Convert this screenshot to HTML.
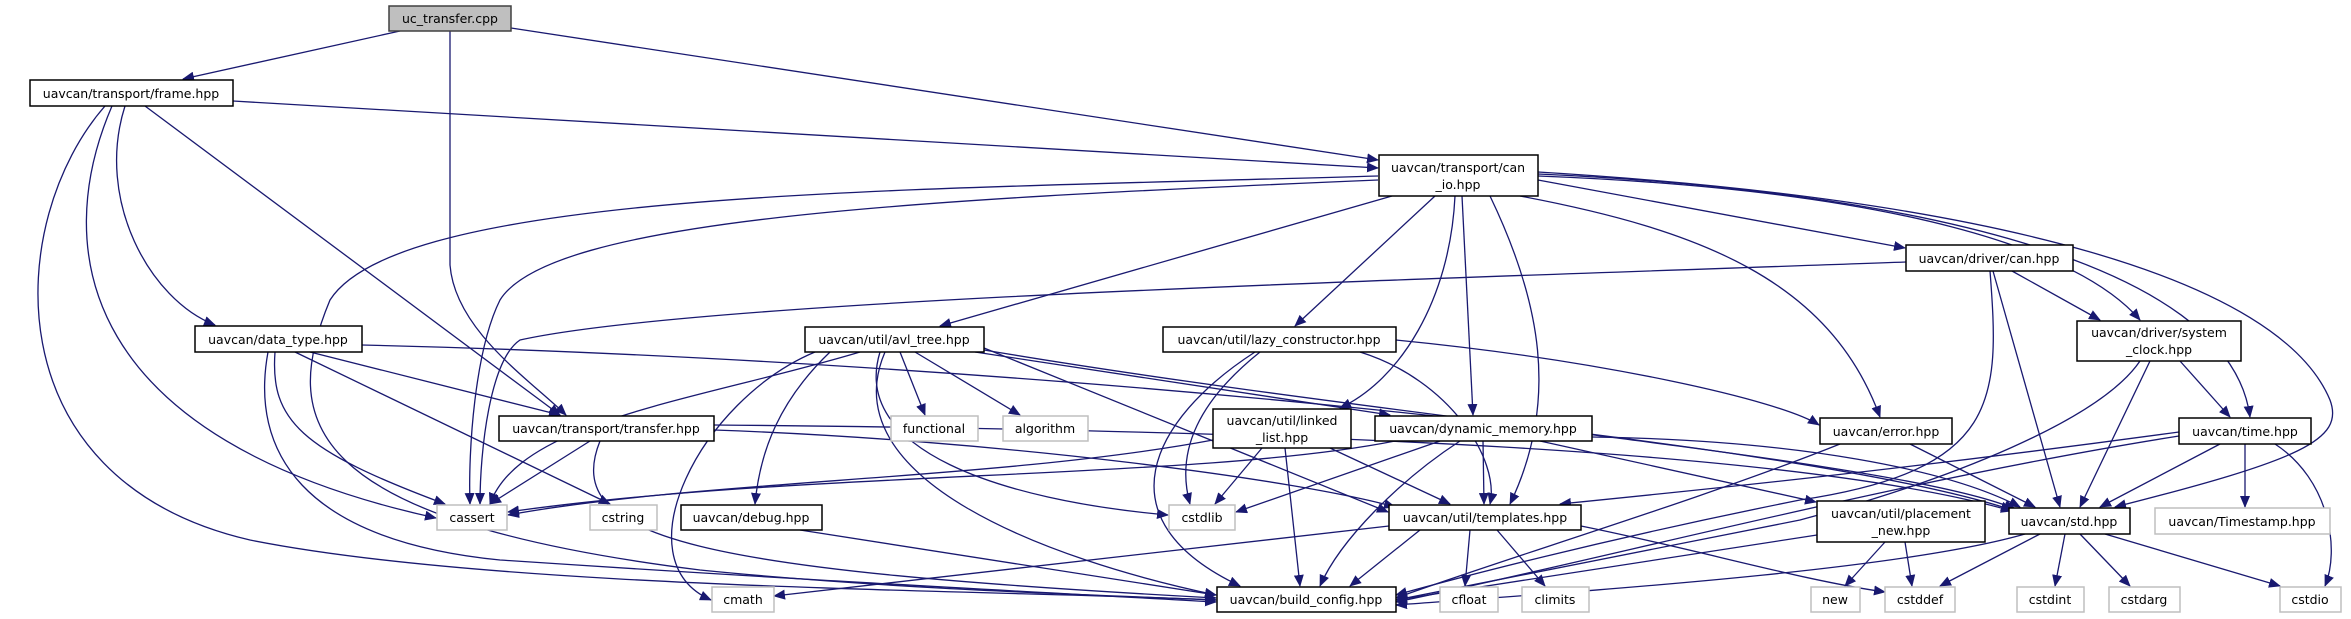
<!DOCTYPE html>
<html><head><meta charset="utf-8"><style>
html,body{margin:0;padding:0;background:#fff;}
svg{display:block;}
text{font-family:"DejaVu Sans","Liberation Sans",sans-serif;font-size:12.5px;fill:#000;}
.n{fill:#fff;stroke:#000;stroke-width:1.5;}
.g{fill:#fff;stroke:#bfbfbf;stroke-width:1.5;}
.e{fill:none;stroke:#191970;stroke-width:1.3;marker-end:url(#a);}
</style></head><body>
<svg width="2351" height="619" viewBox="0 0 2351 619" xmlns="http://www.w3.org/2000/svg">
<defs><marker id="a" markerUnits="userSpaceOnUse" markerWidth="12" markerHeight="10" refX="11" refY="5" orient="auto"><path d="M0,0 L12,5 L0,10 z" fill="#191970"/></marker></defs>
<g>
<path class="e" d="M400,31 L183,79"/>
<path class="e" d="M511,28 L1378,160"/>
<path class="e" d="M450,31 L450,265 C455,330 530,380 566,415"/>
<path class="e" d="M233,101 L1378,168"/>
<path class="e" d="M125,106 C95,200 150,300 215,325"/>
<path class="e" d="M145,106 L560,415"/>
<path class="e" d="M112,106 C50,250 80,440 436,518"/>
<path class="e" d="M105,106 C5,220 -10,480 250,540 C500,590 1000,590 1216,600"/>
<path class="e" d="M1392,196 L940,326"/>
<path class="e" d="M1435,196 L1295,326"/>
<path class="e" d="M1455,196 C1450,300 1400,380 1340,408"/>
<path class="e" d="M1462,196 L1473,415"/>
<path class="e" d="M1490,196 C1540,300 1560,400 1510,504"/>
<path class="e" d="M1520,196 C1700,230 1830,280 1880,417"/>
<path class="e" d="M1538,180 L1905,248"/>
<path class="e" d="M1538,176 C1900,190 2080,250 2140,320"/>
<path class="e" d="M1538,174 C1900,190 2230,260 2250,417"/>
<path class="e" d="M1538,172 C2000,200 2280,280 2330,400 C2345,440 2300,460 2115,507"/>
<path class="e" d="M1378,180 C900,200 550,220 500,300 C475,350 468,450 470,504"/>
<path class="e" d="M1378,176 C900,190 400,190 330,300 C280,420 300,520 700,570 C900,590 1100,595 1216,600"/>
<path class="e" d="M2012,271 L2100,320"/>
<path class="e" d="M1993,271 L2060,507"/>
<path class="e" d="M1990,271 C2000,400 2000,470 1800,500 C1600,540 1450,580 1396,595"/>
<path class="e" d="M1906,262 C1400,280 700,300 520,340 C490,360 480,450 480,504"/>
<path class="e" d="M2180,361 L2230,417"/>
<path class="e" d="M2150,361 L2080,507"/>
<path class="e" d="M2140,361 C2100,420 1950,480 1800,520 C1600,560 1450,590 1396,600"/>
<path class="e" d="M2220,444 L2100,507"/>
<path class="e" d="M2245,444 L2245,507"/>
<path class="e" d="M2275,444 C2330,480 2340,550 2325,586"/>
<path class="e" d="M2179,436 C1900,480 1600,560 1396,602"/>
<path class="e" d="M2179,432 C1900,470 1700,490 1560,504"/>
<path class="e" d="M1910,444 L2035,507"/>
<path class="e" d="M1840,444 C1700,500 1500,560 1396,598"/>
<path class="e" d="M2040,534 L1940,586"/>
<path class="e" d="M2065,534 L2055,586"/>
<path class="e" d="M2080,534 L2130,586"/>
<path class="e" d="M2105,534 L2280,586"/>
<path class="e" d="M2025,534 C1900,570 1600,590 1396,605"/>
<path class="e" d="M1885,542 L1845,586"/>
<path class="e" d="M1905,542 L1912,586"/>
<path class="e" d="M1817,535 C1650,560 1500,585 1396,600"/>
<path class="e" d="M1420,530 L1350,586"/>
<path class="e" d="M1470,530 L1465,586"/>
<path class="e" d="M1497,530 L1545,586"/>
<path class="e" d="M1389,526 C1100,560 900,580 774,596"/>
<path class="e" d="M1581,526 C1700,550 1800,580 1885,592"/>
<path class="e" d="M1483,441 L1484,504"/>
<path class="e" d="M1460,441 C1400,480 1340,540 1320,586"/>
<path class="e" d="M1440,441 L1236,512"/>
<path class="e" d="M1395,441 C1200,480 800,470 508,512"/>
<path class="e" d="M1592,437 C1800,440 1950,470 2020,507"/>
<path class="e" d="M1540,441 L1816,502"/>
<path class="e" d="M1262,448 L1215,504"/>
<path class="e" d="M1285,448 L1300,586"/>
<path class="e" d="M1330,448 L1450,504"/>
<path class="e" d="M1213,440 C1000,480 700,480 508,515"/>
<path class="e" d="M1396,340 C1600,360 1780,400 1819,425"/>
<path class="e" d="M1360,352 C1450,380 1500,460 1490,504"/>
<path class="e" d="M1255,352 C1150,420 1100,520 1240,586"/>
<path class="e" d="M1260,352 C1200,400 1175,450 1190,504"/>
<path class="e" d="M900,352 L925,415"/>
<path class="e" d="M915,352 L1020,415"/>
<path class="e" d="M975,352 L1390,415"/>
<path class="e" d="M830,352 C780,400 760,450 755,504"/>
<path class="e" d="M880,352 C850,450 1000,500 1168,515"/>
<path class="e" d="M860,352 C700,400 520,420 490,504"/>
<path class="e" d="M885,352 C830,480 1050,560 1216,595"/>
<path class="e" d="M815,352 C700,400 620,560 711,600"/>
<path class="e" d="M984,350 C1400,420 1900,460 2015,509"/>
<path class="e" d="M984,348 L1388,512"/>
<path class="e" d="M800,530 L1216,595"/>
<path class="e" d="M590,441 L490,504"/>
<path class="e" d="M600,441 C560,540 700,570 1216,598"/>
<path class="e" d="M714,425 C1300,430 1800,450 2012,511"/>
<path class="e" d="M714,430 C1000,440 1300,480 1395,507"/>
<path class="e" d="M310,352 L560,415"/>
<path class="e" d="M275,352 C270,420 300,450 445,504"/>
<path class="e" d="M295,352 L610,504"/>
<path class="e" d="M268,352 C250,450 300,540 500,560 C800,580 1000,590 1216,602"/>
<path class="e" d="M362,345 C1000,360 1800,440 2012,510"/>
</g>
<g>
<rect x="389" y="6" width="122" height="25" fill="#bfbfbf" stroke="#404040" stroke-width="1.5"/><text x="450" y="23" text-anchor="middle">uc_transfer.cpp</text>
<rect class="n" x="30" y="80" width="203" height="26"/><text x="131" y="98" text-anchor="middle">uavcan/transport/frame.hpp</text>
<rect class="n" x="1379" y="155" width="159" height="41"/><text x="1458" y="172" text-anchor="middle">uavcan/transport/can</text><text x="1458" y="189" text-anchor="middle">_io.hpp</text>
<rect class="n" x="195" y="326" width="167" height="26"/><text x="278" y="344" text-anchor="middle">uavcan/data_type.hpp</text>
<rect class="n" x="499" y="416" width="215" height="25"/><text x="606" y="433" text-anchor="middle">uavcan/transport/transfer.hpp</text>
<rect class="n" x="805" y="327" width="179" height="25"/><text x="894" y="344" text-anchor="middle">uavcan/util/avl_tree.hpp</text>
<rect class="n" x="1163" y="327" width="233" height="25"/><text x="1279" y="344" text-anchor="middle">uavcan/util/lazy_constructor.hpp</text>
<rect class="n" x="1213" y="409" width="138" height="39"/><text x="1282" y="425" text-anchor="middle">uavcan/util/linked</text><text x="1282" y="442" text-anchor="middle">_list.hpp</text>
<rect class="n" x="1375" y="416" width="217" height="25"/><text x="1483" y="433" text-anchor="middle">uavcan/dynamic_memory.hpp</text>
<rect class="g" x="891" y="416" width="87" height="25"/><text x="934" y="433" text-anchor="middle">functional</text>
<rect class="g" x="1003" y="416" width="85" height="25"/><text x="1045" y="433" text-anchor="middle">algorithm</text>
<rect class="n" x="1906" y="245" width="167" height="26"/><text x="1989" y="263" text-anchor="middle">uavcan/driver/can.hpp</text>
<rect class="n" x="2077" y="321" width="164" height="40"/><text x="2159" y="337" text-anchor="middle">uavcan/driver/system</text><text x="2159" y="354" text-anchor="middle">_clock.hpp</text>
<rect class="n" x="1820" y="418" width="132" height="26"/><text x="1886" y="436" text-anchor="middle">uavcan/error.hpp</text>
<rect class="n" x="2179" y="418" width="132" height="26"/><text x="2245" y="436" text-anchor="middle">uavcan/time.hpp</text>
<rect class="g" x="437" y="505" width="70" height="25"/><text x="472" y="522" text-anchor="middle">cassert</text>
<rect class="g" x="590" y="505" width="67" height="25"/><text x="623" y="522" text-anchor="middle">cstring</text>
<rect class="n" x="681" y="505" width="141" height="25"/><text x="751" y="522" text-anchor="middle">uavcan/debug.hpp</text>
<rect class="g" x="1169" y="505" width="66" height="25"/><text x="1202" y="522" text-anchor="middle">cstdlib</text>
<rect class="n" x="1389" y="505" width="192" height="25"/><text x="1485" y="522" text-anchor="middle">uavcan/util/templates.hpp</text>
<rect class="n" x="1817" y="501" width="168" height="41"/><text x="1901" y="518" text-anchor="middle">uavcan/util/placement</text><text x="1901" y="535" text-anchor="middle">_new.hpp</text>
<rect class="n" x="2009" y="508" width="121" height="26"/><text x="2069" y="526" text-anchor="middle">uavcan/std.hpp</text>
<rect class="g" x="2155" y="508" width="175" height="26"/><text x="2242" y="526" text-anchor="middle">uavcan/Timestamp.hpp</text>
<rect class="g" x="712" y="587" width="62" height="25"/><text x="743" y="604" text-anchor="middle">cmath</text>
<rect class="n" x="1217" y="587" width="179" height="25"/><text x="1306" y="604" text-anchor="middle">uavcan/build_config.hpp</text>
<rect class="g" x="1440" y="587" width="58" height="25"/><text x="1469" y="604" text-anchor="middle">cfloat</text>
<rect class="g" x="1522" y="587" width="67" height="25"/><text x="1555" y="604" text-anchor="middle">climits</text>
<rect class="g" x="1811" y="587" width="49" height="25"/><text x="1835" y="604" text-anchor="middle">new</text>
<rect class="g" x="1885" y="587" width="70" height="25"/><text x="1920" y="604" text-anchor="middle">cstddef</text>
<rect class="g" x="2017" y="587" width="67" height="25"/><text x="2050" y="604" text-anchor="middle">cstdint</text>
<rect class="g" x="2109" y="587" width="71" height="25"/><text x="2144" y="604" text-anchor="middle">cstdarg</text>
<rect class="g" x="2280" y="587" width="61" height="25"/><text x="2310" y="604" text-anchor="middle">cstdio</text>
</g>
</svg>
</body></html>
